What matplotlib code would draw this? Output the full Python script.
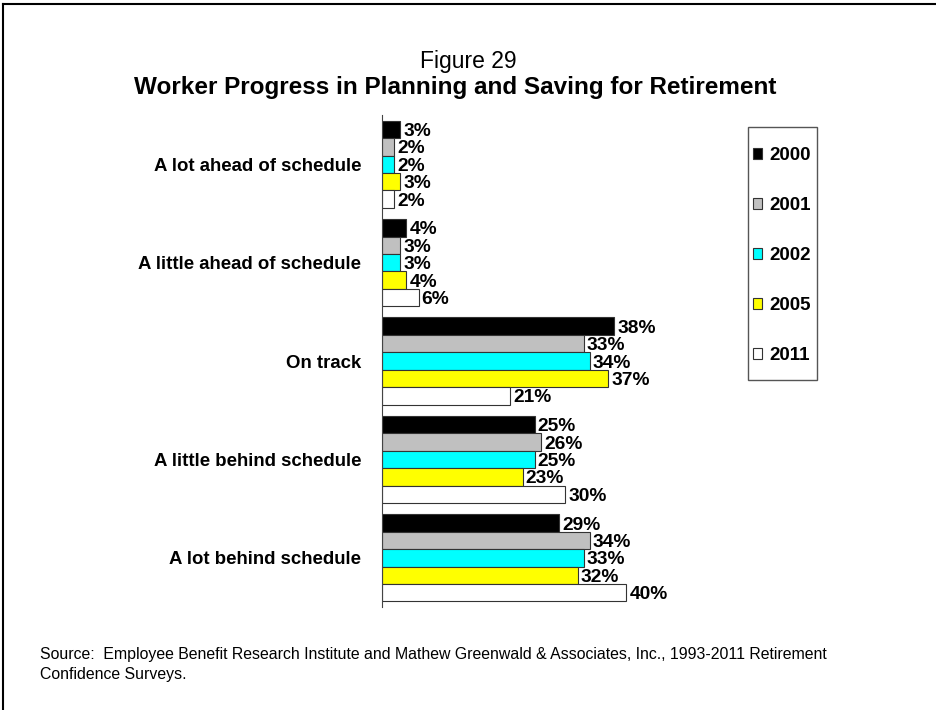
import numpy as np
import matplotlib
matplotlib.use("Agg")
import matplotlib.pyplot as plt
from matplotlib.lines import Line2D
from matplotlib.patches import Rectangle

categories = ["A lot ahead of schedule", "A little ahead of schedule", "On track",
              "A little behind schedule", "A lot behind schedule"]
years = ["2000", "2001", "2002", "2005", "2011"]
v2000 = [3, 4, 38, 25, 29]
v2001 = [2, 3, 33, 26, 34]
v2002 = [2, 3, 34, 25, 33]
v2005 = [3, 4, 37, 23, 32]
v2011 = [2, 6, 21, 30, 40]
series = [v2000, v2001, v2002, v2005, v2011]
colors = ["#000000", "#C0C0C0", "#00FFFF", "#FFFF00", "#FFFFFF"]

plt.rcParams['font.family'] = ['Liberation Sans', 'DejaVu Sans']

fig = plt.figure(figsize=(9.36, 7.10), dpi=100)
ax = fig.add_axes([0.408, 0.145, 0.49, 0.693])

y = np.arange(len(categories))
h = 0.177
for k, (vals, col) in enumerate(zip(series, colors)):
    pos = y + (k - 2) * h
    ax.barh(pos, vals, height=h, color=col, edgecolor="#333333",
            linewidth=0.8, label=years[k])
    for p, v in zip(pos, vals):
        ax.annotate(f"{v}%", (v, p), xytext=(2.2, -1.5), textcoords="offset points",
                    ha="left", va="center", fontsize=13.8, fontweight="bold")

ax.set_xlim(0, 75)
ax.set_ylim(4.5, -0.5)
ax.set_yticks(y)
ax.set_yticklabels(categories, fontsize=13.4, fontweight="bold")
ax.tick_params(axis="y", length=0, pad=15)
ax.set_xticks([])
for s in ["top", "right", "bottom"]:
    ax.spines[s].set_visible(False)
ax.spines["left"].set_color("#444444")
ax.spines["left"].set_linewidth(0.8)

# legend box
fig.add_artist(Rectangle((748 / 936, 1 - 380 / 710), 69 / 936, 253 / 710,
                         transform=fig.transFigure, fill=False,
                         edgecolor="#555555", linewidth=1.0))
ax.legend(loc="center left", bbox_to_anchor=(753 / 936, 1 - 255.5 / 710),
          bbox_transform=fig.transFigure, frameon=False,
          labelspacing=1.76, handlelength=0.5, handleheight=0.5,
          handletextpad=0.4, borderpad=0.0, borderaxespad=0.0,
          prop={"weight": "bold", "size": 13.5})

fig.text(468 / 936, 1 - 68 / 710, "Figure 29", ha="center", va="baseline", fontsize=16.5)
fig.text(455 / 936, 1 - 94 / 710, "Worker Progress in Planning and Saving for Retirement",
         ha="center", va="baseline", fontsize=17.5, fontweight="bold")

fig.text(40 / 936, 1 - 659 / 710, "Source:  Employee Benefit Research Institute and Mathew Greenwald & Associates, Inc., 1993-2011 Retirement",
         ha="left", va="baseline", fontsize=11.4)
fig.text(40 / 936, 1 - 679 / 710, "Confidence Surveys.",
         ha="left", va="baseline", fontsize=11.4)

# page border (left and top only)
fig.add_artist(Line2D([3 / 936, 3 / 936], [0, 1 - 4 / 710], color="black", lw=1.5))
fig.add_artist(Line2D([3 / 936, 1], [1 - 4 / 710, 1 - 4 / 710], color="black", lw=1.5))

fig.savefig("out.png", dpi=100)
